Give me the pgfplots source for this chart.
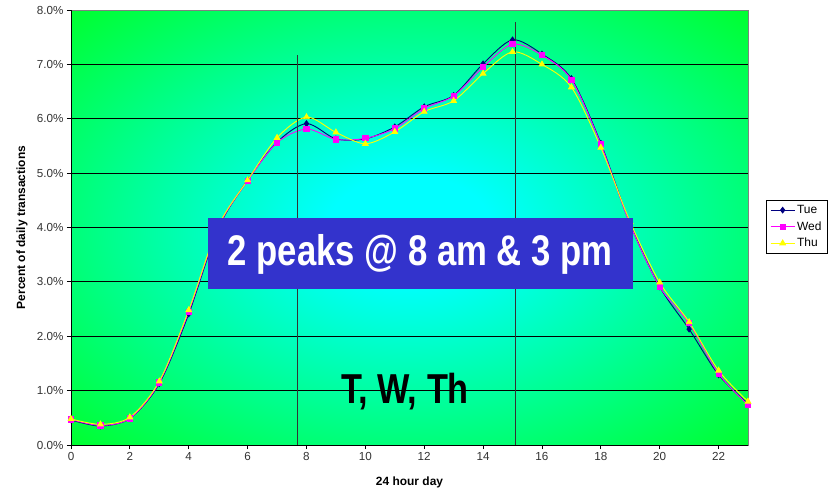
\documentclass[border=0pt]{standalone}
\usepackage{fontspec}
\setmainfont{Liberation Sans}
\usepackage{pgfplots}
\pgfplotsset{compat=1.18}
\definecolor{boxblue}{RGB}{51,51,204}
\definecolor{tuec}{RGB}{0,0,128}
\definecolor{wedc}{RGB}{255,0,255}
\definecolor{thuc}{RGB}{255,255,0}
\pgfdeclareradialshading{bgshade}{\pgfpoint{0bp}{0bp}}{rgb(0bp)=(0,1,1); rgb(6bp)=(0,1,1); rgb(42bp)=(0,1,0); rgb(80bp)=(0,1,0)}
\pgfplotstableread{
h Tue Wed Thu
0 0.46 0.47 0.48
1 0.35 0.36 0.38
2 0.49 0.49 0.51
3 1.13 1.15 1.17
4 2.41 2.45 2.48
5 3.98 4.00 4.02
6 4.87 4.86 4.87
7 5.57 5.56 5.65
8 5.91 5.81 6.03
9 5.63 5.62 5.75
10 5.63 5.64 5.54
11 5.85 5.82 5.76
12 6.22 6.19 6.13
13 6.43 6.42 6.33
14 7.01 6.95 6.83
15 7.45 7.37 7.23
16 7.19 7.17 7.00
17 6.74 6.72 6.58
18 5.55 5.53 5.47
19 4.06 4.05 4.10
20 2.91 2.91 2.99
21 2.13 2.24 2.26
22 1.29 1.31 1.37
23 0.76 0.74 0.80
}\data
\begin{document}
\begin{tikzpicture}
\useasboundingbox (0,0) rectangle (832bp,494bp);
\begin{axis}[
  at={(71bp,49bp)}, anchor=south west,
  scale only axis, width=677bp, height=435bp,
  xmin=0, xmax=23, ymin=0, ymax=8,
  xtick={0,2,...,22}, ytick={0,1,...,8},
  yticklabel={\pgfmathprintnumber[fixed,fixed zerofill,precision=1]{\tick}\%},
  /pgf/number format/assume math mode=true,
  ticklabel style={font=\fontsize{11.7}{13}\selectfont, text=black!80},
  tick style={black, line width=0.8bp},
  tick align=outside, major tick length=4bp,
  xtick pos=bottom, ytick pos=left,
  ymajorgrids, grid style={black, line width=0.8bp},
  axis line style={draw=gray, line width=1bp},
  axis background/.style={shading=bgshade},
  xlabel={24 hour day},
  ylabel={Percent of daily transactions},
  label style={font=\bfseries\fontsize{12}{14}\selectfont},
  xlabel style={at={(axis description cs:0.5,-0.087)}, anchor=center},
  ylabel style={at={(axis description cs:-0.0724,0.5)}, anchor=center},
  legend style={at={(rel axis cs:1.0266,0.563)}, anchor=north west, draw=black, font=\fontsize{12}{13}\selectfont, inner xsep=4bp, inner ysep=3bp, row sep=2.5bp, cells={anchor=west}},
  legend cell align=left,
  legend image code/.code={\draw[mark repeat=2,mark phase=2] plot coordinates {(0bp,0bp) (12bp,0bp) (24bp,0bp)};},
  clip=false,
]
\draw[black, line width=0.8bp] (axis cs:0,0) -- (axis cs:23,0);
\draw[black, line width=0.8bp] (axis cs:0,0) -- (axis cs:0,8);
\addplot[tuec, line width=0.9bp, smooth, mark=diamond*, mark size=2.8bp, mark options={fill=tuec}] table[x=h,y=Tue] {\data};
\addlegendentry{Tue}
\addplot[wedc, line width=0.9bp, smooth, mark=square*, mark size=2.6bp, mark options={fill=wedc}] table[x=h,y=Wed] {\data};
\addlegendentry{Wed}
\addplot[thuc, line width=0.9bp, smooth, mark=triangle*, mark size=3.2bp, mark options={fill=thuc}] table[x=h,y=Thu] {\data};
\addlegendentry{Thu}
\draw[black!80, line width=1bp] (axis cs:7.68,0) -- (axis cs:7.68,7.18);
\draw[black!80, line width=1bp] (axis cs:15.09,0) -- (axis cs:15.09,7.78);
\coordinate (b1) at (axis cs:4.655,2.87);
\coordinate (b2) at (axis cs:19.10,4.175);
\coordinate (t1) at (axis cs:11.86,3.50);
\coordinate (t2) at (axis cs:11.35,0.99);
\end{axis}
\fill[boxblue] (b1) rectangle (b2);
\node[text=white, font=\bfseries\fontsize{43}{50}\selectfont] at (t1) {\scalebox{0.81}[1]{2 peaks @ 8 am \& 3 pm}};
\node[text=black, font=\bfseries\fontsize{42}{50}\selectfont] at (t2) {\scalebox{0.82}[1]{T, W, Th}};
\end{tikzpicture}
\end{document}
